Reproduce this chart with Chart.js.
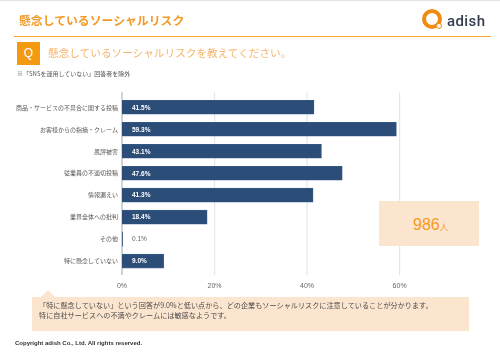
<!DOCTYPE html>
<html lang="ja">
<head>
<meta charset="utf-8">
<script src="https://cdn.jsdelivr.net/npm/chart.js@4"></script>
<style>
  html, body { margin: 0; padding: 0; background: #fff; }
  body { position: relative; width: 500px; height: 353px; overflow: hidden;
    font-family: "Noto Sans CJK JP", "Liberation Sans", sans-serif; }
  #chart { position: absolute; left: 0; top: 0; }
  .abs { position: absolute; white-space: nowrap; line-height: 1; }
</style>
</head>
<body>
<canvas id="chart" width="500" height="353"></canvas>

<div class="abs" style="left:0;top:0;width:500px;height:1px;background:#e3e3e3"></div>
<div class="abs" id="title" style="left:19px;top:14px;font-size:11.85px;font-weight:700;color:#f39a26">懸念しているソーシャルリスク</div>
<div class="abs" style="left:14px;top:36px;width:477px;height:1px;background:#f7a530"></div>

<div class="abs" style="left:422px;top:9px;width:12px;height:12px;border:4px solid #f08c12;border-radius:50%"></div>
<div class="abs" style="left:436px;top:23px;width:4px;height:4px;border:1px solid #f08c12;border-radius:50%;background:#fff"></div>
<div class="abs" style="left:447px;top:12px;font:500 15px Roboto,sans-serif;letter-spacing:.4px;color:#333d4d">adish</div>

<div class="abs" style="left:17px;top:42px;width:23px;height:23px;background:#f39a12;color:#fff;font:12px/23px 'Liberation Sans',sans-serif;text-align:center">Q</div>
<div class="abs" style="left:48px;top:48px;font-size:10.65px;color:#f5b468">懸念しているソーシャルリスクを教えてください。</div>
<div class="abs" style="left:17px;top:71px;font-size:6px;color:#555">※「SNSを運用していない」回答者を除外</div>

<div class="abs" style="left:379px;top:201px;width:100px;height:45px;background:#fce5cf"></div>
<div class="abs" style="left:413px;top:216px;font:16px 'Liberation Sans',sans-serif;color:#f79a1c">986<span style="font-family:'Noto Sans CJK JP';font-size:8.5px">人</span></div>

<div class="abs" style="left:32px;top:297px;width:437px;height:34px;background:#fce5cf"></div>
<div class="abs" style="left:41px;top:290px;width:0;height:0;border-left:7px solid transparent;border-right:7px solid transparent;border-bottom:7px solid #fce5cf"></div>
<div class="abs" style="left:39px;top:302px;font-size:7.15px;color:#4d4d4d">「特に懸念していない」という回答が9.0%と低い点から、どの企業もソーシャルリスクに注意していることが分かります。</div>
<div class="abs" style="left:39px;top:312px;font-size:7.15px;color:#4d4d4d">特に自社サービスへの不満やクレームには敏感なようです。</div>
<div class="abs" style="left:15px;top:340px;font:700 6px 'Liberation Sans',sans-serif;color:#333">Copyright adish Co., Ltd. All rights reserved.</div>

<script>
const categories = [
  "商品・サービスの不具合に関する投稿",
  "お客様からの指摘・クレーム",
  "風評被害",
  "従業員の不適切投稿",
  "情報漏えい",
  "業界全体への批判",
  "その他",
  "特に懸念していない",
];
const values = [41.5, 59.3, 43.1, 47.6, 41.3, 18.4, 0.1, 9.0];
const xTicks = [0, 20, 40, 60];

// grid runs a little past the plot area, the library's own grid stops at its edge
const longGrid = {
  id: "longGrid",
  beforeDatasetsDraw(chart) {
    const { ctx, scales, chartArea } = chart;
    ctx.save();
    xTicks.forEach((t) => {
      const x = scales.x.getPixelForValue(t);
      ctx.strokeStyle = t === 0 ? "#b4b4b4" : "#e6e6e6";
      ctx.lineWidth = 1.2;
      ctx.beginPath();
      ctx.moveTo(x, chartArea.top - 4);
      ctx.lineTo(x, chartArea.bottom + 3);
      ctx.stroke();
    });
    ctx.restore();
  },
};

const valueLabels = {
  id: "valueLabels",
  afterDatasetsDraw(chart) {
    const { ctx, scales } = chart;
    ctx.save();
    ctx.textBaseline = "middle";
    values.forEach((v, i) => {
      const big = v > 5;
      ctx.font = (big ? "700 " : "") + "6.5px 'Liberation Sans', sans-serif";
      ctx.fillStyle = big ? "#fff" : "#666";
      ctx.fillText(v.toFixed(1) + "%", 132, scales.y.getPixelForValue(i) + 0.5);
    });
    ctx.restore();
  },
};

new Chart(document.getElementById("chart"), {
  type: "bar",
  data: {
    labels: categories,
    datasets: [
      {
        data: values,
        backgroundColor: "#2b4d77",
        borderColor: "#3c6290",
        borderWidth: values.map((v) => (v > 5 ? 0.6 : 0)),
        barThickness: 14,
      },
    ],
  },
  plugins: [longGrid, valueLabels],
  options: {
    indexAxis: "y",
    animation: false,
    responsive: false,
    devicePixelRatio: 1,
    layout: { padding: { top: 96.3, bottom: 52.5, left: 0, right: 0 } },
    plugins: { legend: { display: false }, tooltip: { enabled: false } },
    scales: {
      x: {
        min: 0,
        max: 81.7,
        afterBuildTicks(axis) {
          axis.ticks = xTicks.map((value) => ({ value }));
        },
        grid: { display: false, drawTicks: false },
        border: { display: false },
        ticks: {
          color: "#666",
          padding: 10,
          maxRotation: 0,
          font: { size: 7, family: "'Liberation Sans', sans-serif" },
          callback: (v) => v + "%",
        },
      },
      y: {
        grid: { display: false, drawTicks: false },
        border: { display: false },
        afterFit(axis) {
          axis.width = 122;
        },
        ticks: {
          color: "#555",
          padding: 4,
          autoSkip: false,
          font: { size: 6, family: "'Noto Sans CJK JP', sans-serif" },
        },
      },
    },
  },
});
</script>
</body>
</html>
